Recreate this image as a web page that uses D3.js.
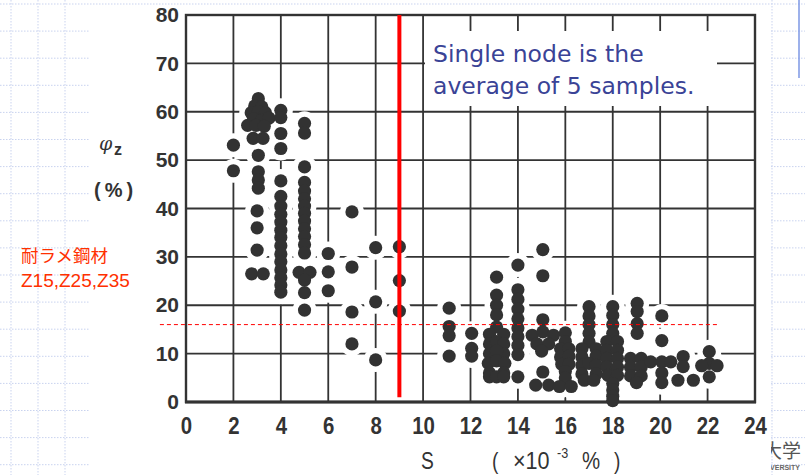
<!DOCTYPE html>
<html><head><meta charset="utf-8">
<script src="https://cdn.jsdelivr.net/npm/d3@7"></script>
<style>html,body{margin:0;padding:0;background:#fff;overflow:hidden}</style>
</head><body><svg id="c" width="805" height="475"></svg>
<script>
// ---- data ----
const sTicks = [0, 2, 4, 6, 8, 10, 12, 14, 16, 18, 20, 22, 24];
const phiTicks = [0, 10, 20, 30, 40, 50, 60, 70, 80];
// [S (x10^-3 %), phi_z (%)]
const dotsLowS = [
  [2, 53.1], [2, 47.8],
  [3.05, 62.7], [2.9, 61.2], [3.2, 61.0], [2.75, 59.8], [3.05, 60], [3.35, 59.8],
  [2.85, 58.5], [3.2, 58.2], [3.5, 58.7], [2.6, 57.2], [2.95, 57.2], [3.3, 57],
  [2.83, 54.5], [3.25, 54.5], [3.05, 51], [3.05, 47.6], [3.05, 45.9], [3.05, 44.2],
  [3.0, 39.5], [3.0, 36], [3.0, 31.4], [2.77, 26.5], [3.26, 26.5],
  [4, 60.3], [4, 58.8], [4, 55.5], [4, 52.4], [4, 45.7], [4, 42.5], [4, 40.5], [4, 38.8],
  [4, 37.2], [4, 35.5], [4, 34], [4, 32.3], [4, 30.6], [4, 29], [4, 27.3], [4, 25.7],
  [4, 24.2], [4, 22.7],
  [5, 57.6], [5, 55.6], [5, 48.6], [5, 45.4], [5, 43.6], [5, 42], [5, 40.5], [5, 39],
  [5, 37.4], [5, 35.8], [5, 34.2], [5, 32.5], [5, 30.8], [4.77, 26.8], [5.23, 26.8],
  [5, 25.2], [5, 22.6], [5, 19],
  [6, 30.7], [6, 26.9], [6, 23],
  [7, 39.3], [7, 27.9], [7, 18.6], [7, 12],
  [8, 31.9], [8, 20.7], [8, 8.7],
  [9, 32.1], [9, 25.1], [9, 18.8]
];
const dotsHighS = [
  [11.1, 19.4], [11.1, 15.6], [11.1, 13.7], [11.1, 9.5],
  [12.05, 14.2], [12.05, 11.1], [12.05, 9.5],
  [13.1, 25.8], [13.1, 22.1], [13.1, 20], [13.1, 18], [13.1, 15.5],
  [12.8, 14], [13.4, 14], [12.8, 12], [13.1, 12.5], [13.4, 12], [12.8, 10], [13.4, 10],
  [13.1, 10.5], [12.75, 8], [13.1, 8.5], [13.45, 8], [12.8, 6], [13.4, 6],
  [12.8, 5.2], [13.1, 5.2], [13.4, 5.2],
  [14, 28.3], [14, 23.2], [14, 21.2], [14, 19.2], [14, 17.2], [14, 15.3], [14, 13.5],
  [14, 11.7], [14, 9.8], [14, 5.2],
  [15.05, 31.5], [15.05, 26.1], [15.05, 17], [14.6, 13.8], [15.05, 14.5], [15.5, 13.8],
  [14.8, 12], [15.3, 12], [15, 10.5], [15.05, 6.2], [14.75, 3.5], [15.3, 3.5],
  [16, 14.3], [16, 12.5], [15.8, 11], [16.15, 11], [15.8, 9.3], [16.15, 9.5],
  [15.85, 7.8], [16.15, 7.8], [16, 6.3], [16, 5], [15.75, 3.2], [16.25, 3.2],
  [17, 19.7], [17, 17.8], [17, 16], [17, 14.2], [17, 12.4], [16.7, 11], [17.3, 11],
  [16.7, 9.3], [17.3, 9.5], [16.7, 7.6], [17, 8], [17.3, 7.6], [16.7, 5.8], [17.3, 5.8],
  [16.8, 4.5], [17.2, 4.5],
  [18, 19.7], [18, 17.9], [18, 16], [18, 14.2], [17.75, 12.5], [18.2, 12.5],
  [17.75, 10.7], [18.2, 10.7], [17.75, 9], [18.2, 9], [17.75, 7.2], [18.2, 7.2],
  [17.8, 5.5], [18.2, 5.5], [18, 3.8], [18, 2.5], [18, 1.2], [18, 0.3],
  [19.03, 20.4], [19.03, 18.7], [19.03, 16.2], [19.03, 14.2],
  [18.75, 9], [19.2, 9], [18.75, 7.2], [19.2, 7.2], [18.75, 5.4], [19.2, 5.4], [19, 4],
  [20.07, 17.8], [20.07, 12.7], [19.6, 8.3], [20.07, 8.3], [20.45, 8.3], [20.07, 6], [20.07, 4],
  [20.97, 9.4], [20.97, 7.3], [20.75, 4.5], [21.4, 4.5],
  [22.07, 10.4], [22.07, 8], [22.4, 7.5], [21.75, 7.5], [22.07, 5.2]
];
const sLimit = 9;        // red vertical line
const phiLimit = 16;     // red dashed line
const noteLines = ["Single node is the", "average of 5 samples."];
const sideLabel = ["耐ラメ鋼材", "Z15,Z25,Z35"];

// ---- drawing ----
const svg = d3.select("#c");
const W = 805, H = 475;
const x = d3.scaleLinear().domain([0, 24]).range([186, 755]);
const y = d3.scaleLinear().domain([0, 80]).range([402, 15]);
const ink = "#333";

// slide background (graph paper)
const bg = svg.append("g").attr("stroke", "#c9d3ef").attr("stroke-width", 1).attr("stroke-dasharray", "1.5,1.5");
d3.range(0, 18).forEach(k => {
  const yy = 4 + 27.1 * k;
  bg.append("line").attr("x1", 0).attr("x2", W).attr("y1", yy).attr("y2", yy);
});
[11, 38, 65, 772].forEach(xx => bg.append("line").attr("x1", xx).attr("x2", xx).attr("y1", 0).attr("y2", H));
svg.append("line").attr("x1", 799).attr("x2", 799).attr("y1", 0).attr("y2", 78)
  .attr("stroke", "#7d97e4").attr("stroke-width", 1.5);
svg.append("text").attr("x", 763).attr("y", 458).attr("font-family", "Noto Sans CJK JP")
  .attr("font-size", 19).attr("fill", "#555").text("大学");
svg.append("text").attr("x", 800).attr("y", 470).attr("text-anchor", "end").attr("font-family", "Liberation Sans")
  .attr("font-weight", "bold").attr("font-size", 7).attr("fill", "#666").text("UNIVERSITY");
// chart image
svg.append("rect").attr("x", 90).attr("y", 6).attr("width", 681).attr("height", H - 6).attr("fill", "#fff");

// grid
const grid = svg.append("g").attr("stroke", ink).attr("stroke-width", 1.8);
grid.selectAll("line.v").data(sTicks.slice(1, -1)).join("line").attr("class", "v")
  .attr("x1", d => x(d)).attr("x2", d => x(d)).attr("y1", y(80)).attr("y2", y(0));
grid.selectAll("line.h").data(phiTicks.slice(1, -1)).join("line").attr("class", "h")
  .attr("y1", d => y(d)).attr("y2", d => y(d)).attr("x1", x(0)).attr("x2", x(24));

const allDots = dotsLowS.concat(dotsHighS);
// white halos breaking grid near data
svg.append("g").selectAll("circle").data(allDots).join("circle")
  .attr("cx", d => x(d[0])).attr("cy", d => y(d[1])).attr("r", 12).attr("fill", "#fff");

// frame
svg.append("rect").attr("x", x(0)).attr("y", y(80)).attr("width", x(24) - x(0)).attr("height", y(0) - y(80))
  .attr("fill", "none").attr("stroke", ink).attr("stroke-width", 2.4);
svg.append("line").attr("x1", x(0) - 1).attr("x2", x(24) + 1).attr("y1", y(0)).attr("y2", y(0))
  .attr("stroke", ink).attr("stroke-width", 3.2);

// dots
svg.append("g").selectAll("circle").data(allDots).join("circle")
  .attr("cx", d => x(d[0])).attr("cy", d => y(d[1])).attr("r", 6.6).attr("fill", "#323232");

// red reference lines
svg.append("line").attr("x1", x(-1.1)).attr("x2", x(22.4)).attr("y1", y(phiLimit)).attr("y2", y(phiLimit))
  .attr("stroke", "#ff0000").attr("stroke-width", 1).attr("stroke-dasharray", "4,3");
svg.append("line").attr("x1", x(sLimit)).attr("x2", x(sLimit)).attr("y1", y(80)).attr("y2", y(1))
  .attr("stroke", "#ff0000").attr("stroke-width", 4);

// note box
svg.append("rect").attr("x", 425).attr("y", 31).attr("width", 292).attr("height", 75).attr("fill", "#fff");
svg.append("g").selectAll("text").data(noteLines).join("text")
  .attr("x", 433).attr("y", (d, i) => 62 + i * 32)
  .attr("font-family", "DejaVu Sans").attr("font-size", 23.5).attr("fill", "#3a4396").text(d => d);

// y axis labels
const yAxis = svg.append("g").attr("transform", `translate(${x(0)},0)`)
  .call(d3.axisLeft(y).tickValues(phiTicks).tickSize(0).tickPadding(7));
yAxis.select(".domain").remove();
yAxis.selectAll("text").attr("font-family", "Liberation Sans").attr("font-weight", "bold")
  .attr("font-size", 21).attr("fill", ink);

// x axis labels
const xAxis = svg.append("g").attr("transform", `translate(0,${y(0)})`)
  .call(d3.axisBottom(x).tickValues(sTicks).tickSize(0).tickPadding(15));
xAxis.select(".domain").remove();
xAxis.selectAll("text").attr("font-family", "Liberation Sans").attr("font-weight", "bold")
  .attr("font-size", 24).attr("fill", ink).attr("transform", "scale(0.85,1)");

// axis titles
const tf = {"font-family": "Liberation Sans", fill: ink};
function put(txt, px, py, size, sx, weight) {
  const t = svg.append("text").attr("transform", `translate(${px},${py}) scale(${sx},1)`)
    .attr("font-size", size).attr("font-weight", weight || "normal").text(txt);
  Object.entries(tf).forEach(([k, v]) => t.attr(k, v));
  return t;
}
put("S", 421, 469, 24, 0.8);
put("(", 492, 469, 24, 0.8);
put("×10", 513, 469, 24, 0.9);
put("-3", 557, 458, 14, 0.9);
put("%", 582, 469, 24, 0.85);
put(")", 614, 469, 24, 0.8);

put("φ", 99, 150, 19, 1).attr("font-family", "DejaVu Serif").attr("font-style", "italic");
put("z", 114, 155, 16, 1, "bold");
svg.append("text").attr("x", 94).attr("y", 197).attr("font-family", "Liberation Sans").attr("font-weight", "bold")
  .attr("font-size", 20).attr("letter-spacing", 4).attr("fill", ink).text("(%)");

// side label
svg.append("text").attr("x", 21).attr("y", 262).attr("font-family", "Noto Sans CJK JP")
  .attr("font-size", 17.5).attr("fill", "#ff3000").text(sideLabel[0]);
svg.append("text").attr("x", 21).attr("y", 287).attr("font-family", "Liberation Sans")
  .attr("font-size", 19).attr("fill", "#ff3000").text(sideLabel[1]);
</script></body></html>
